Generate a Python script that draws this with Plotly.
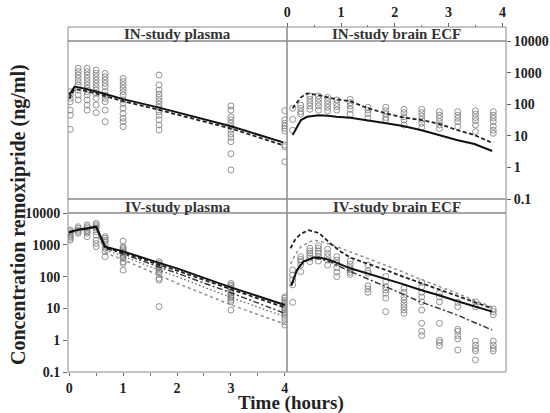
import plotly.graph_objects as go

W, H = 550, 413

# ---------------- observed data ----------------
obs_times = [0.02, 0.167, 0.333, 0.5, 0.667, 1.0, 1.667, 3.0, 4.0]
in_plasma_obs = [
    [249, 195, 153, 120, 65, 45, 16],
    [1365, 1070, 840, 659, 517, 405, 281, 195, 136],
    [1365, 1070, 840, 659, 517, 405, 318, 249, 195, 136, 94, 65],
    [1208, 948, 743, 583, 457, 359, 281, 221, 153, 94, 54],
    [948, 743, 583, 457, 359, 249, 195, 153, 120, 65, 28],
    [659, 517, 405, 318, 249, 195, 136, 106, 74, 51, 36, 28, 19.5],
    [840, 405, 281, 210, 165, 129, 101, 80, 58, 45, 32, 22, 15.3],
    [88, 65, 40, 32, 25, 19.5, 15.3, 11.4, 8.9, 6.5, 2.7, 0.83],
    [62, 32, 25, 20.4, 17.2, 14.2, 5.1, 4.5, 1.5],
]
iv_plasma_obs = [
    [2900, 2600, 2300, 2000, 1800, 1600, 1400],
    [3700, 3300, 2900, 2600, 2300],
    [4200, 3700, 3300, 2900, 2600, 2300, 1800],
    [4700, 4200, 3700, 3300, 2600, 2000, 1400, 1100, 870],
    [1800, 1600, 1400, 1250, 990, 770, 610, 420],
    [1300, 870, 770, 690, 610, 540, 480, 420, 375, 295, 260, 160],
    [295, 260, 230, 205, 180, 160, 143, 127, 88, 78, 11.4],
    [61, 54, 48, 43, 38, 34, 30, 26, 23, 21, 18, 16, 8.9],
    [23, 21, 18, 16, 14.4, 12.8, 11.4, 10, 8.9, 7.9, 7.0, 6.2, 4.9, 3.8, 3.0],
]
brain_times = [0.1, 0.25, 0.42, 0.58, 0.75, 0.92, 1.17, 1.5, 1.83, 2.17, 2.5, 2.83, 3.17, 3.5, 3.83]
in_brain_obs = [
    [74, 33, 15],
    [94, 74, 58, 49],
    [182, 143, 112, 88, 69],
    [182, 143, 112, 88, 65],
    [165, 129, 101, 80, 62],
    [136, 106, 84, 65],
    [143, 112, 88, 69, 48],
    [80, 65, 51, 36],
    [80, 62, 49, 38, 32],
    [69, 54, 40, 32, 22],
    [69, 54, 42, 33, 25, 18.5],
    [58, 45, 36, 28, 22, 17],
    [58, 45, 36, 28, 19.5],
    [62, 49, 38, 30, 22, 13.5],
    [58, 45, 36, 28, 20, 15, 12],
]
iv_brain_obs = [
    [162, 112, 78, 55, 15.5],
    [426, 350, 296, 230, 143],
    [776, 638, 540, 457, 380, 296],
    [933, 776, 638, 540, 426, 310],
    [724, 540, 426, 331, 230],
    [426, 331, 263, 191, 138, 100],
    [310, 245, 191, 162, 138, 118],
    [230, 151, 127, 51, 41, 32],
    [100, 69, 48, 38, 30, 21, 7.9],
    [43, 32, 23, 18.5, 14.5, 11.3, 8.9, 7],
    [66, 48, 32, 23, 16, 8.9, 3.4, 1.9, 1.4],
    [30, 23, 16, 3.4, 1.0, 0.85, 0.67],
    [15.5, 11.3, 2.2, 1.9, 1.4, 1.1, 0.49],
    [16, 11.3, 0.93, 0.7, 0.55, 0.46, 0.24],
    [9.5, 7.9, 6.3, 0.93, 0.7, 0.55, 0.46],
]

# ---------------- model predictions ----------------
in_plasma_pred_t = [0.0, 0.1, 0.333, 0.5, 0.667, 1.0, 1.667, 3.0, 3.97]
in_plasma_solid = [195, 360, 300, 255, 210, 145, 78, 20, 6.2]
in_plasma_dashed = [150, 300, 260, 220, 180, 125, 66, 17, 5.0]

in_brain_pred_t = [0.1, 0.255, 0.366, 0.583, 0.757, 0.912, 1.173, 1.5, 1.84, 2.15, 2.48, 2.82, 3.15, 3.48, 3.81]
in_brain_solid = [10.6, 31.6, 40, 45, 43, 40, 37.5, 30, 24.8, 20.4, 15.3, 10.6, 7.4, 5.5, 3.3]
in_brain_dashed = [74, 165, 221, 195, 165, 143, 124, 74, 51, 38, 32, 24, 15.3, 10.6, 6.0]

iv_plasma_pred_t = [0.0, 0.167, 0.333, 0.5, 0.667, 1.0, 1.667, 2.0, 3.0, 4.0]
iv_plasma_solid = [2500, 3000, 3300, 3700, 870, 620, 270, 182, 46, 12.8]
iv_plasma_dashed = [2500, 3000, 3300, 3700, 820, 570, 235, 155, 40, 10.7]
iv_plasma_dashdot = [2400, 2900, 3200, 3600, 780, 520, 200, 128, 31, 7.0]
iv_plasma_dotted1 = [2300, 2900, 3200, 3500, 700, 440, 160, 100, 22, 5.5]
iv_plasma_dotted2 = [2200, 2800, 3100, 3400, 560, 340, 110, 62, 13, 3.2]

iv_brain_pred_t = [0.075, 0.1, 0.18, 0.3, 0.49, 0.6, 0.8, 1.17, 1.5, 1.84, 2.15, 2.48, 2.82, 3.15, 3.48, 3.81]
iv_brain_solid = [52, 70, 162, 296, 400, 400, 330, 182, 125, 85, 58, 38, 26, 17, 11.5, 7.9]
iv_brain_dashdot = [52, 70, 160, 290, 380, 360, 290, 145, 85, 48, 28, 16, 10, 6.3, 3.6, 2.1]
iv_brain_dash_t = [0.06, 0.15, 0.25, 0.4, 0.6, 0.8, 1.0, 1.17, 1.5, 1.84, 2.15, 2.48, 2.82, 3.15, 3.48, 3.81]
iv_brain_dashed = [780, 1500, 2200, 2900, 2300, 1100, 600, 400, 250, 160, 100, 63, 40, 25, 16, 10]
iv_brain_dot_t = [0.06, 0.15, 0.25, 0.4, 0.5, 0.6, 0.8, 1.0, 1.17, 1.5, 1.84, 2.15, 2.48, 2.82, 3.15, 3.48, 3.81]
iv_brain_dotted = [250, 500, 850, 1200, 1400, 1300, 1050, 800, 600, 370, 225, 140, 82, 50, 30, 18, 11]

strip_labels = ["IN-study plasma", "IN-study brain ECF", "IV-study plasma", "IV-study brain ECF"]
y_tickvals = [0.1, 1, 10, 100, 1000, 10000]
y_ticktext = ["0.1", "1", "10", "100", "1000", "10000"]
x_tickvals = [0, 1, 2, 3, 4]

# ---------------- layout geometry (pixels) ----------------
colL = (68, 287)
colR = (287, 506)
rowT = (41, 199)   # panel top row (top, bottom)
rowB = (213, 372)
stripT = (27, 41)
stripB = (199, 213)

def fx(p):
    return p / W

def fy(p):
    return 1 - p / H

fig = go.Figure()

MARK = dict(symbol="circle-open", size=6, color="#808080", line=dict(width=0.85, color="#808080"))

def add_obs(times, cols, xa, ya):
    xs, ys = [], []
    for t, vals in zip(times, cols):
        for v in vals:
            xs.append(t)
            ys.append(v)
    fig.add_trace(go.Scatter(x=xs, y=ys, mode="markers", marker=MARK,
                             xaxis=xa, yaxis=ya, showlegend=False, hoverinfo="skip"))

def add_line(t, v, xa, ya, color, width, dash):
    fig.add_trace(go.Scatter(x=t, y=v, mode="lines", line=dict(color=color, width=width, dash=dash),
                             xaxis=xa, yaxis=ya, showlegend=False, hoverinfo="skip"))

SOLID = ("#111111", 2.0, "solid")
DASH = ("#222222", 1.8, "4px,2.5px")
DASHDOT = ("#333333", 1.4, "6px,2.5px,2px,2.5px")
DOT = ("#8c8c8c", 1.5, "dot")
DOT2 = ("#666666", 1.3, "1.5px,2.5px")

# IV plasma -> x / y (bottom-left)
add_obs(obs_times, iv_plasma_obs, "x", "y")
add_line(iv_plasma_pred_t, iv_plasma_dotted2, "x", "y", *DOT)
add_line(iv_plasma_pred_t, iv_plasma_dotted1, "x", "y", *DOT2)
add_line(iv_plasma_pred_t, iv_plasma_dashdot, "x", "y", *DASHDOT)
add_line(iv_plasma_pred_t, iv_plasma_dashed, "x", "y", *DASH)
add_line(iv_plasma_pred_t, iv_plasma_solid, "x", "y", *SOLID)

# IN plasma -> x2 / y2 (top-left)
add_obs(obs_times, in_plasma_obs, "x2", "y2")
add_line(in_plasma_pred_t, in_plasma_dashed, "x2", "y2", *DASH)
add_line(in_plasma_pred_t, in_plasma_solid, "x2", "y2", *SOLID)

# IN brain -> x3 / y3 (top-right)
add_obs(brain_times, in_brain_obs, "x3", "y3")
add_line(in_brain_pred_t, in_brain_dashed, "x3", "y3", *DASH)
add_line(in_brain_pred_t, in_brain_solid, "x3", "y3", *SOLID)

# IV brain -> x4 / y4 (bottom-right)
add_obs(brain_times, iv_brain_obs, "x4", "y4")
add_line(iv_brain_dot_t, iv_brain_dotted, "x4", "y4", *DOT)
add_line(iv_brain_pred_t, iv_brain_dashdot, "x4", "y4", *DASHDOT)
add_line(iv_brain_dash_t, iv_brain_dashed, "x4", "y4", *DASH)
add_line(iv_brain_pred_t, iv_brain_solid, "x4", "y4", *SOLID)

TICKFONT = dict(family="Liberation Serif", size=14, color="#222222", weight="bold")
XR_L = [-0.022, 4.04]
XR_R = [-0.005, 4.067]
YR = [-1, 4]

common_hidden = dict(showgrid=False, zeroline=False, showline=False, ticks="", showticklabels=False)

fig.update_layout(
    width=W, height=H,
    margin=dict(l=0, r=0, t=0, b=0, pad=0),
    paper_bgcolor="white", plot_bgcolor="white",
    xaxis=dict(domain=[fx(colL[0]), fx(colL[1])], range=XR_L, anchor="y", automargin=False,
               tickvals=x_tickvals, ticks="outside", ticklen=3, tickcolor="#666666",
               minor=dict(dtick=0.5, tick0=0, ticks="outside", ticklen=2.5, tickcolor="#777777"),
               showgrid=False, zeroline=False, showline=False, tickfont=TICKFONT),
    yaxis=dict(domain=[fy(rowB[1]), fy(rowB[0])], type="log", range=YR, anchor="x", automargin=False,
               tickvals=y_tickvals, ticktext=y_ticktext, ticks="outside", ticklen=4,
               tickcolor="#666666", showgrid=False, zeroline=False, showline=False, tickfont=TICKFONT),
    xaxis2=dict(domain=[fx(colL[0]), fx(colL[1])], range=XR_L, anchor="y2", **common_hidden),
    yaxis2=dict(domain=[fy(rowT[1]), fy(rowT[0])], type="log", range=YR, anchor="x2", **common_hidden),
    xaxis3=dict(domain=[fx(colR[0]), fx(colR[1])], range=XR_R, anchor="free", position=fy(stripT[0]),
                side="top", tickvals=x_tickvals, ticks="outside", ticklen=4, tickcolor="#666666",
                automargin=False,
                minor=dict(dtick=0.5, tick0=0, ticks="outside", ticklen=2.5, tickcolor="#777777"),
                showgrid=False, zeroline=False, showline=False, tickfont=TICKFONT),
    yaxis3=dict(domain=[fy(rowT[1]), fy(rowT[0])], type="log", range=YR, anchor="x3", side="right",
                automargin=False,
                tickvals=y_tickvals, ticktext=y_ticktext, ticks="outside", ticklen=4,
                tickcolor="#666666", showgrid=False, zeroline=False, showline=False, tickfont=TICKFONT),
    xaxis4=dict(domain=[fx(colR[0]), fx(colR[1])], range=XR_R, anchor="y4", **common_hidden),
    yaxis4=dict(domain=[fy(rowB[1]), fy(rowB[0])], type="log", range=YR, anchor="x4", **common_hidden),
)

BORDER = dict(color="#8a8a8a", width=1)
shapes = []
for (c0, c1) in (colL, colR):
    for (r0, r1) in (rowT, rowB, stripT, stripB):
        shapes.append(dict(type="rect", xref="paper", yref="paper",
                           x0=fx(c0), x1=fx(c1), y0=fy(r1), y1=fy(r0),
                           line=BORDER, fillcolor="rgba(0,0,0,0)", layer="above"))
fig.update_layout(shapes=shapes)

STRIPFONT = dict(family="Liberation Serif", size=15, color="#333333")
strip_pos = [(colL, stripT), (colR, stripT), (colL, stripB), (colR, stripB)]
annots = []
for label, (c, s) in zip(strip_labels, strip_pos):
    annots.append(dict(text="<b>" + label + "</b>", xref="paper", yref="paper",
                       x=fx((c[0] + c[1]) / 2), y=fy((s[0] + s[1]) / 2 + 0.5),
                       xanchor="center", yanchor="middle", showarrow=False, font=STRIPFONT))

TITLEFONT = dict(family="Liberation Serif", size=19, color="#222222")
annots.append(dict(text="<b>Time (hours)</b>", xref="paper", yref="paper",
                   x=fx(291), y=fy(402.5), xanchor="center", yanchor="middle", borderpad=0,
                   showarrow=False, font=TITLEFONT))
annots.append(dict(text="<b>Concentration remoxipride (ng/ml)</b>", xref="paper", yref="paper",
                   x=fx(18), y=fy(215), xanchor="center", yanchor="middle", textangle=-90,
                   showarrow=False, font=dict(family="Liberation Serif", size=20, color="#222222")))
fig.update_layout(annotations=annots)

fig.write_html("out.html", config={"displayModeBar": False},
               post_script="document.body.style.margin='0px';document.body.style.overflow='hidden';")
